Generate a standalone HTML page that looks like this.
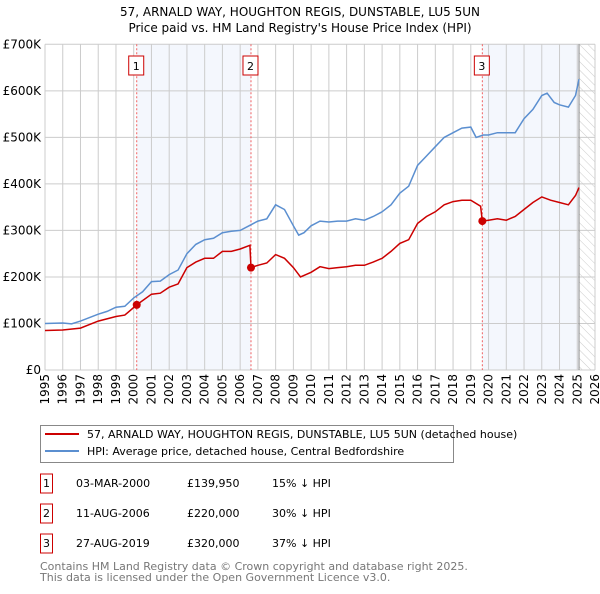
<!DOCTYPE html>
<html><head><meta charset="utf-8"><style>
body{margin:0;background:#fff;font-family:"DejaVu Sans","Liberation Sans",sans-serif;}
svg text{font-family:"DejaVu Sans","Liberation Sans",sans-serif;}
</style></head><body>
<svg width="600" height="590" xmlns="http://www.w3.org/2000/svg">
<defs><pattern id="hatch" width="6" height="6" patternUnits="userSpaceOnUse" patternTransform="rotate(-45)"><line x1="0" y1="0" x2="0" y2="6" stroke="#ccc" stroke-width="1"/></pattern></defs>
<text x="300" y="16" text-anchor="middle" font-size="12">57, ARNALD WAY, HOUGHTON REGIS, DUNSTABLE, LU5 5UN</text>
<text x="300" y="32" text-anchor="middle" font-size="12">Price paid vs. HM Land Registry's House Price Index (HPI)</text>
<g id="plot"></g>
<rect x="40.5" y="425.5" width="413" height="37" fill="#fff" stroke="#888"/>
<line x1="45" y1="434" x2="79" y2="434" stroke="#cc0000" stroke-width="2"/>
<text x="87" y="438" font-size="11">57, ARNALD WAY, HOUGHTON REGIS, DUNSTABLE, LU5 5UN (detached house)</text>
<line x1="45" y1="451" x2="79" y2="451" stroke="#5b8fd0" stroke-width="2"/>
<text x="87" y="455" font-size="11">HPI: Average price, detached house, Central Bedfordshire</text>
<g font-size="11" id="table"></g>
<text x="40" y="570" font-size="11" fill="#777">Contains HM Land Registry data © Crown copyright and database right 2025.</text>
<text x="40" y="581" font-size="11" fill="#777">This data is licensed under the Open Government Licence v3.0.</text>
</svg>
<script>
const yTicks=[0,100,200,300,400,500,600,700];
const yTickLabels=["£0","£100K","£200K","£300K","£400K","£500K","£600K","£700K"];
const hpiYears=[1995,1996,1996.5,1997,1998,1998.5,1999,1999.5,2000,2000.5,2001,2001.5,2002,2002.5,2003,2003.5,2004,2004.5,2005,2005.5,2006,2006.5,2007,2007.5,2008,2008.5,2009,2009.3,2009.6,2010,2010.5,2011,2011.5,2012,2012.5,2013,2013.5,2014,2014.5,2015,2015.5,2016,2016.5,2017,2017.5,2018,2018.5,2019,2019.3,2019.7,2020,2020.5,2021,2021.5,2022,2022.5,2023,2023.3,2023.7,2024,2024.5,2024.9,2025.1];
const hpiValues=[100,101,99,105,120,126,135,137,155,168,190,191,205,215,250,270,280,283,295,298,300,310,320,325,355,345,310,290,295,310,320,318,320,320,325,322,330,340,355,380,395,440,460,480,500,510,520,522,500,505,505,510,510,510,540,560,590,595,575,570,565,590,625];
const priceYears=[1995,1996,1997,1998,1999,1999.5,2000.17,2001,2001.5,2002,2002.5,2003,2003.5,2004,2004.5,2005,2005.5,2006,2006.55,2006.61,2007,2007.5,2008,2008.5,2009,2009.4,2010,2010.5,2011,2011.5,2012,2012.5,2013,2013.5,2014,2014.5,2015,2015.5,2016,2016.5,2017,2017.5,2018,2018.5,2019,2019.55,2019.65,2020,2020.5,2021,2021.5,2022,2022.5,2023,2023.5,2024,2024.5,2024.9,2025.1];
const priceValues=[85,86,90,105,115,118,140,163,165,178,185,220,232,240,240,255,255,260,268,220,225,230,248,240,220,200,210,222,218,220,222,225,225,232,240,255,272,280,315,330,340,355,362,365,365,352,320,322,325,322,330,345,360,372,365,360,355,375,392];
const saleYears=[2000.17,2006.61,2019.65];
const saleValues=[139.95,220,320];
const saleLabels=["1","2","3"];
const saleDates=["03-MAR-2000","11-AUG-2006","27-AUG-2019"];
const salePrices=["£139,950","£220,000","£320,000"];
const saleDiffs=["15% ↓ HPI","30% ↓ HPI","37% ↓ HPI"];
const NS="http://www.w3.org/2000/svg";
const L=45,R=595,T=44.3,B=370;
const xs=y=>L+(y-1995)*(R-L)/31;
const ys=v=>B-v*(B-T)/700;
const g=document.getElementById('plot');
function mk(t,a,p){const e=document.createElementNS(NS,t);for(const k in a)e.setAttribute(k,a[k]);(p||g).appendChild(e);return e;}
let e;
e=mk('rect',{x:L,y:T,width:R-L,height:B-T,fill:'#fff'});

e=mk('rect',{x:xs(saleYears[0]),y:T,width:xs(saleYears[1])-xs(saleYears[0]),height:B-T,fill:'#f3f6fd',opacity:0.9});

e=mk('rect',{x:xs(saleYears[2]),y:T,width:xs(2025.1)-xs(saleYears[2]),height:B-T,fill:'#f3f6fd',opacity:0.9});

e=mk('rect',{x:xs(2025.1),y:T,width:R-xs(2025.1),height:B-T,fill:'url(#hatch)'});

for(let y=1995;y<=2026;y++){
 e=mk('line',{x1:xs(y),x2:xs(y),y1:T,y2:B,stroke:'#ccc','stroke-width':1});
 
 e=mk('text',{x:0,y:0,'font-size':12,'text-anchor':'end',transform:`translate(${xs(y)+4},${B+4}) rotate(-90)`});
 e.textContent=y;
 
}
yTicks.forEach((v,i)=>{
 e=mk('line',{x1:L,x2:R,y1:ys(v),y2:ys(v),stroke:'#ccc','stroke-width':1});
 
 e=mk('text',{x:L-4,y:ys(v)+4,'font-size':12,'text-anchor':'end'});
 e.textContent=yTickLabels[i];
 
});
e=mk('line',{x1:xs(2025.1),x2:xs(2025.1),y1:T,y2:B,stroke:'#888','stroke-width':1});

saleYears.forEach((y,i)=>{
 e=mk('line',{x1:xs(y),x2:xs(y),y1:T,y2:B,stroke:'#f06060','stroke-width':1,'stroke-dasharray':'2,2'});
 
});
function path(xa,va){return xa.map((x,i)=>(i?'L':'M')+xs(x).toFixed(1)+','+ys(va[i]).toFixed(1)).join('');}
e=mk('path',{d:path(hpiYears,hpiValues),fill:'none',stroke:'#5b8fd0','stroke-width':1.5});

e=mk('path',{d:path(priceYears,priceValues),fill:'none',stroke:'#cc0000','stroke-width':1.5});

saleYears.forEach((y,i)=>{
 e=mk('circle',{cx:xs(y),cy:ys(saleValues[i]),r:4,fill:'#cc0000'});
 
 e=mk('rect',{x:xs(y)-8,y:56,width:15,height:19,fill:'#fff',stroke:'#cc0000'});
 
 e=mk('text',{x:xs(y)-0.5,y:70,'font-size':11,'text-anchor':'middle'});
 e.textContent=saleLabels[i];
 
});
const tb=document.getElementById('table');
saleLabels.forEach((s,i)=>{
 const cy=483+i*30;
 e=mk('rect',{x:40.5,y:cy-9,width:12,height:19,fill:'#fff',stroke:'#cc0000'},tb);
 
 const cols=[[46.5,s,'middle'],[76,saleDates[i],'start'],[187,salePrices[i],'start'],[272,saleDiffs[i],'start']];
 cols.forEach(c=>{e=mk('text',{x:c[0],y:cy+4,'text-anchor':c[2]},tb);e.textContent=c[1];
 });
});
</script>
</body></html>
